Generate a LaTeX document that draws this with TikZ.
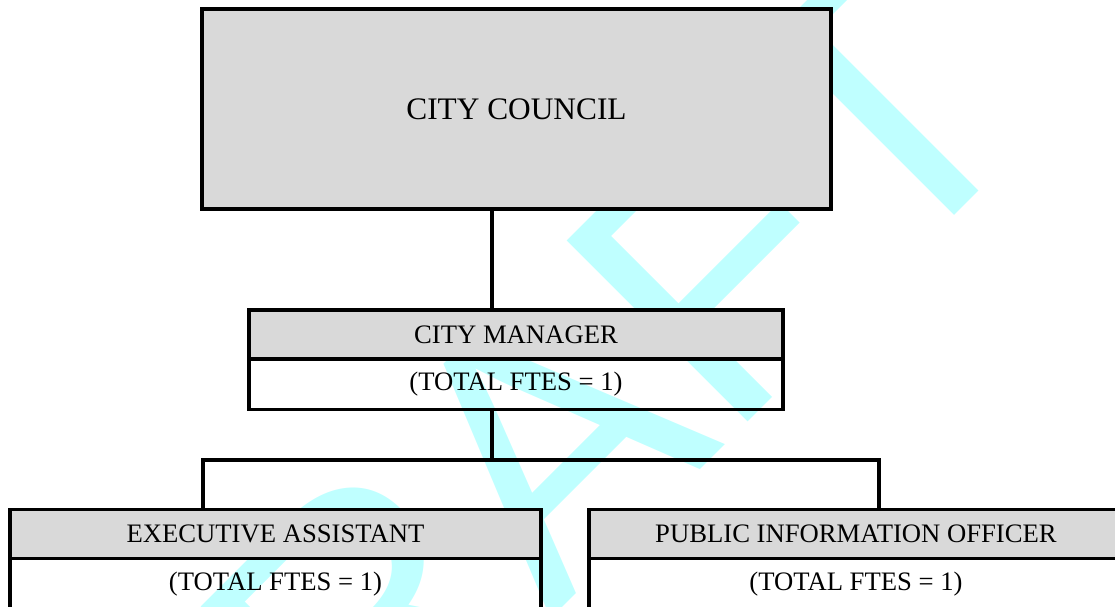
\documentclass[tikz,border=0pt]{standalone}
\usepackage{fontspec}
\setmainfont{Liberation Serif}
\newfontfamily\draftfont{Liberation Sans}
\usetikzlibrary{positioning}
\definecolor{boxgray}{RGB}{217,217,217}
\definecolor{draftcyan}{RGB}{191,255,255}
\tikzset{
  orgbox/.style={draw, line width=2.5pt, inner sep=0pt, outer sep=0pt},
  headbox/.style={orgbox, fill=boxgray, minimum height=36.75pt, font=\fontsize{20}{24}\selectfont},
  ftebox/.style={orgbox, minimum height=38pt, font=\fontsize{20}{24}\selectfont},
  link/.style={line width=2.5pt}
}
\begin{document}
\begin{tikzpicture}[x=0.75pt,y=0.75pt]
        \useasboundingbox (0,0) rectangle (1115,607);
        \clip (0,0) rectangle (1115,607);

        % watermark
        \node[text=draftcyan, font=\draftfont\fontsize{279}{300}\selectfont, rotate=45, anchor=base west, inner sep=0pt] (draft) at (170.6,-392.4) {DRAFT};

        \node[orgbox, fill=boxgray, minimum width=471.75pt, minimum height=150pt, font=\fontsize{23.5}{28}\selectfont] (council) at (516.5,498) {CITY COUNCIL};

        \node[headbox, minimum width=400.5pt] (mgr) at (516,272.5) {CITY MANAGER};
        \node[ftebox, minimum width=400.5pt, below=0pt of mgr] (mgrfte) {(TOTAL FTES = 1)};

        \node[headbox, minimum width=398.25pt] (ea) at (275.5,73) {EXECUTIVE ASSISTANT};
        \node[ftebox, minimum width=398.25pt, below=0pt of ea] (eafte) {(TOTAL FTES = 1)};

        \node[headbox, minimum width=400.5pt] (pio) at (856,73) {PUBLIC INFORMATION OFFICER};
        \node[ftebox, minimum width=400.5pt, below=0pt of pio] (piofte) {(TOTAL FTES = 1)};

        % reporting lines
        \coordinate (busL) at (203,147);
        \coordinate (busM) at (492,147);
        \coordinate (busR) at (879,147);
        \draw[link] (council.south -| busM) -- (mgr.north -| busM);
        \draw[link] (mgrfte.south -| busM) -- (busM);
        \draw[link] (ea.north -| busL) -- (busL) -- (busR) -- (pio.north -| busR);
    \end{tikzpicture}
\end{document}
